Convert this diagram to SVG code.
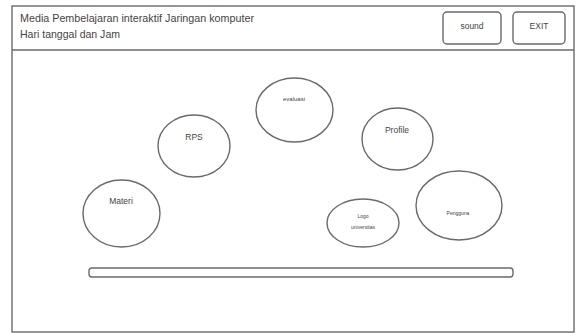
<svg xmlns="http://www.w3.org/2000/svg" width="583" height="333" viewBox="0 0 583 333">
<style>
.f{fill:#fff;stroke:#6a6a6a;stroke-width:1.4}
.t{font-family:"Liberation Sans",Arial,sans-serif;fill:#444}
.c{text-anchor:middle}
</style>
<rect width="583" height="333" fill="#fff"/>
<g id="frame">
<rect class="f" x="12" y="6" width="562" height="326"/>
<line x1="12" y1="50" x2="574" y2="50" stroke="#6a6a6a" stroke-width="1.4"/>
<text class="t" x="20" y="22" font-size="10.5" textLength="234" lengthAdjust="spacingAndGlyphs">Media Pembelajaran interaktif Jaringan komputer</text>
<text class="t" x="20" y="38" font-size="10.5" textLength="100" lengthAdjust="spacingAndGlyphs">Hari tanggal dan Jam</text>
</g>
<g id="sound">
<rect class="f" x="443" y="12" width="58" height="32" rx="4"/>
<text class="t c" x="472" y="29" font-size="8.5">sound</text>
</g>
<g id="exit">
<rect class="f" x="513" y="12" width="52" height="32" rx="4"/>
<text class="t c" x="539" y="29" font-size="8.5">EXIT</text>
</g>
<g id="materi">
<ellipse class="f" cx="121.5" cy="213.5" rx="38.5" ry="33.5"/>
<text class="t c" x="121" y="204" font-size="8.5">Materi</text>
</g>
<g id="rps">
<ellipse class="f" cx="194" cy="146" rx="36" ry="31"/>
<text class="t c" x="194" y="140" font-size="8.5">RPS</text>
</g>
<g id="evaluasi">
<ellipse class="f" cx="294.5" cy="110" rx="38.5" ry="32"/>
<text class="t c" x="294" y="101" font-size="6">evaluasi</text>
</g>
<g id="profile">
<ellipse class="f" cx="397.5" cy="139" rx="35.5" ry="31"/>
<text class="t c" x="397" y="133" font-size="8.5">Profile</text>
</g>
<g id="logo">
<ellipse class="f" cx="363" cy="223" rx="36" ry="24"/>
<text class="t c" x="363" y="218" font-size="5">Logo</text>
<text class="t c" x="363" y="229" font-size="5">universitas</text>
</g>
<g id="pengguna">
<ellipse class="f" cx="459" cy="205.5" rx="43" ry="34.5"/>
<text class="t c" x="458" y="215" font-size="5">Pengguna</text>
</g>
<g id="bar">
<rect class="f" x="89" y="268" width="424" height="9" rx="3"/>
</g>
<g id="connectors"></g>
</svg>
